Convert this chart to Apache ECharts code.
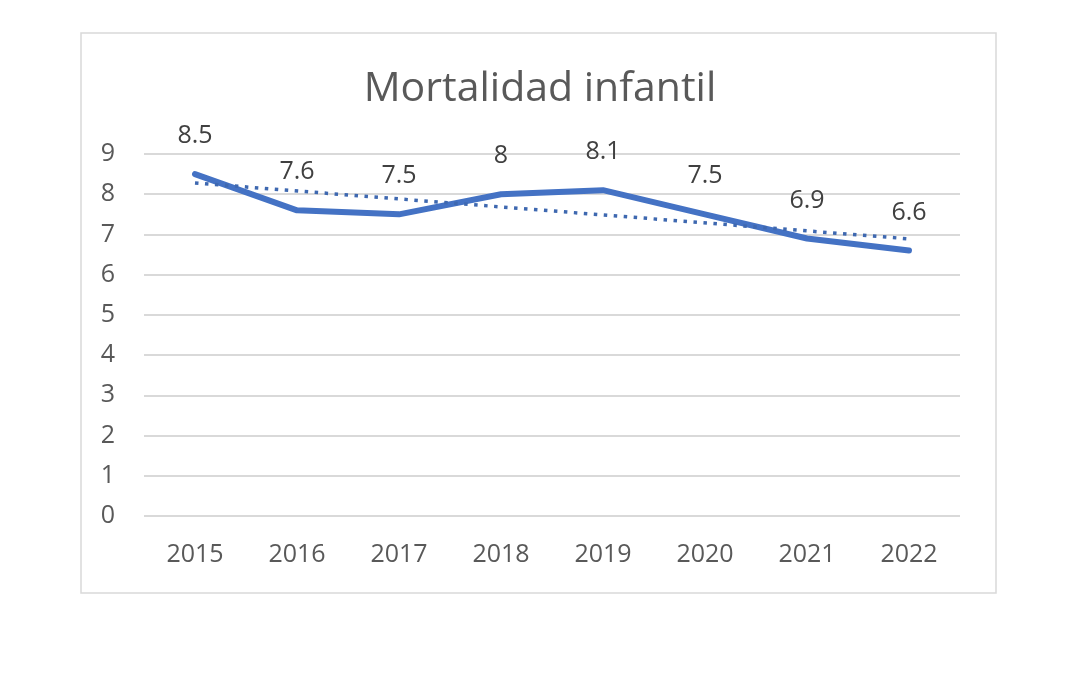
<!DOCTYPE html>
<html>
<head>
<meta charset="utf-8">
<script src="https://cdn.jsdelivr.net/npm/echarts@6/dist/echarts.min.js"></script>
<style>
html,body{margin:0;padding:0;background:#fff;}
#chart{width:1080px;height:674px;}
</style>
</head>
<body>
<div id="chart"></div>
<script>
const categories = ['2015','2016','2017','2018','2019','2020','2021','2022'];
const mortalidad = [8.5, 7.6, 7.5, 8, 8.1, 7.5, 6.9, 6.6];
// trendline endpoints (straight dotted line)
const tendencia = [8.28, null, null, null, null, null, null, 6.89];
const yTicks = [0,1,2,3,4,5,6,7,8,9];

const chart = echarts.init(document.getElementById('chart'), null, {renderer:'canvas'});
chart.setOption({
  animation: false,
  backgroundColor: '#ffffff',
  title: {
    text: 'Mortalidad infantil',
    left: 'center',
    top: 64,
    textStyle: {fontFamily: 'Open Sans', fontSize: 41, fontWeight: 'normal', color: '#595959'}
  },
  graphic: [{
    type: 'rect',
    shape: {x: 81, y: 33, width: 915, height: 560},
    style: {fill: 'none', stroke: '#d9d9d9', lineWidth: 1.5},
    silent: true,
    z: -1
  }],
  grid: {left: 144, right: 120, top: 154, bottom: 158},
  xAxis: {
    type: 'category',
    data: categories,
    boundaryGap: true,
    axisLine: {show: false},
    axisTick: {show: false},
    axisLabel: {margin: 26, fontFamily: 'Open Sans', fontSize: 25, color: '#595959'}
  },
  yAxis: {
    type: 'value',
    min: yTicks[0],
    max: yTicks[yTicks.length-1],
    interval: 1,
    axisLine: {show: false},
    axisTick: {show: false},
    axisLabel: {margin: 29, fontFamily: 'Open Sans', fontSize: 25, color: '#595959'},
    splitLine: {lineStyle: {color: '#d9d9d9', width: 2}}
  },
  series: [
    {
      name: 'Mortalidad infantil',
      type: 'line',
      data: mortalidad,
      symbol: 'circle',
      symbolSize: 3,
      showSymbol: true,
      itemStyle: {color: '#4472C4', borderWidth: 0},
      lineStyle: {color: '#4472C4', width: 6, cap: 'round', join: 'round'},
      label: {
        show: true, position: 'top', distance: 24,
        fontFamily: 'Open Sans', fontSize: 25, color: '#404040'
      },
      labelLayout: {hideOverlap: false},
      z: 3
    },
    {
      name: 'Tendencia',
      type: 'line',
      data: tendencia,
      connectNulls: true,
      symbol: 'none',
      lineStyle: {color: '#3e68b0', width: 3.5, type: [3.5, 6.5], cap: 'butt'},
      z: 4
    }
  ]
});
</script>
</body>
</html>
